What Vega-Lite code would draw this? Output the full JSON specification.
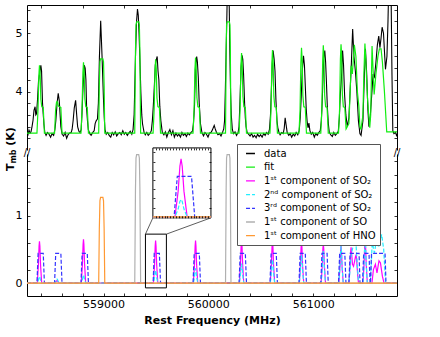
{
"$schema": "https://vega.github.io/schema/vega-lite/v6.json",
"background": "white",
"padding": {"left": 5, "top": 3, "right": 5, "bottom": 5},
"bounds": "flush",
"spacing": 4,
"config": {
  "font": "DejaVu Sans",
  "view": {"stroke": null},
  "axis": {"labelFont": "DejaVu Sans", "labelFontSize": 11, "labelColor": "black", "domainColor": "black", "tickColor": "black", "titleFont": "DejaVu Sans", "titleColor": "black", "grid": false, "domainWidth": 1, "tickWidth": 0.8, "labelOverlap": false, "labelFlush": false},
  "text": {"font": "DejaVu Sans", "color": "black"}
},
"datasets": {
"top": [
{"s":"d","x":558270,"y":3.32},{"s":"d","x":558280,"y":3.27},{"s":"d","x":558289,"y":3.34},{"s":"d","x":558299,"y":3.29},{"s":"d","x":558308,"y":3.31},{"s":"d","x":558318,"y":3.4},{"s":"d","x":558327,"y":3.5},{"s":"d","x":558337,"y":3.68},{"s":"d","x":558347,"y":3.74},{"s":"d","x":558354,"y":3.6},{"s":"d","x":558361,"y":3.62},{"s":"d","x":558370,"y":3.85},{"s":"d","x":558380,"y":4.18},{"s":"d","x":558390,"y":4.3},{"s":"d","x":558402,"y":4.45},{"s":"d","x":558409,"y":4.35},{"s":"d","x":558418,"y":3.8},{"s":"d","x":558431,"y":3.45},{"s":"d","x":558440,"y":3.3},{"s":"d","x":558452,"y":3.25},{"s":"d","x":558466,"y":3.3},{"s":"d","x":558480,"y":3.27},{"s":"d","x":558495,"y":3.22},{"s":"d","x":558509,"y":3.28},{"s":"d","x":558524,"y":3.25},{"s":"d","x":558536,"y":3.35},{"s":"d","x":558545,"y":3.5},{"s":"d","x":558557,"y":3.8},{"s":"d","x":558568,"y":3.97},{"s":"d","x":558578,"y":3.84},{"s":"d","x":558586,"y":3.6},{"s":"d","x":558593,"y":3.4},{"s":"d","x":558605,"y":3.27},{"s":"d","x":558619,"y":3.24},{"s":"d","x":558634,"y":3.3},{"s":"d","x":558648,"y":3.2},{"s":"d","x":558662,"y":3.26},{"s":"d","x":558677,"y":3.29},{"s":"d","x":558691,"y":3.3},{"s":"d","x":558700,"y":3.35},{"s":"d","x":558710,"y":3.5},{"s":"d","x":558721,"y":3.72},{"s":"d","x":558734,"y":3.85},{"s":"d","x":558744,"y":3.6},{"s":"d","x":558753,"y":3.4},{"s":"d","x":558765,"y":3.32},{"s":"d","x":558777,"y":3.3},{"s":"d","x":558787,"y":3.35},{"s":"d","x":558794,"y":3.6},{"s":"d","x":558804,"y":4.05},{"s":"d","x":558817,"y":4.45},{"s":"d","x":558825,"y":4.4},{"s":"d","x":558832,"y":4.2},{"s":"d","x":558839,"y":3.7},{"s":"d","x":558847,"y":3.5},{"s":"d","x":558855,"y":3.35},{"s":"d","x":558868,"y":3.28},{"s":"d","x":558882,"y":3.25},{"s":"d","x":558897,"y":3.3},{"s":"d","x":558911,"y":3.33},{"s":"d","x":558920,"y":3.45},{"s":"d","x":558930,"y":3.5},{"s":"d","x":558942,"y":3.53},{"s":"d","x":558951,"y":3.8},{"s":"d","x":558961,"y":4.6},{"s":"d","x":558973,"y":5.21},{"s":"d","x":558986,"y":4.6},{"s":"d","x":558999,"y":3.9},{"s":"d","x":559007,"y":3.55},{"s":"d","x":559014,"y":3.35},{"s":"d","x":559026,"y":3.27},{"s":"d","x":559040,"y":3.3},{"s":"d","x":559054,"y":3.25},{"s":"d","x":559069,"y":3.22},{"s":"d","x":559083,"y":3.3},{"s":"d","x":559097,"y":3.26},{"s":"d","x":559112,"y":3.31},{"s":"d","x":559126,"y":3.24},{"s":"d","x":559141,"y":3.28},{"s":"d","x":559155,"y":3.3},{"s":"d","x":559169,"y":3.26},{"s":"d","x":559184,"y":3.33},{"s":"d","x":559198,"y":3.27},{"s":"d","x":559212,"y":3.3},{"s":"d","x":559227,"y":3.25},{"s":"d","x":559241,"y":3.29},{"s":"d","x":559255,"y":3.32},{"s":"d","x":559270,"y":3.27},{"s":"d","x":559282,"y":3.35},{"s":"d","x":559292,"y":3.6},{"s":"d","x":559305,"y":4.6},{"s":"d","x":559315,"y":5.2},{"s":"d","x":559324,"y":5.41},{"s":"d","x":559332,"y":5.3},{"s":"d","x":559339,"y":5.0},{"s":"d","x":559348,"y":4.5},{"s":"d","x":559356,"y":4.0},{"s":"d","x":559365,"y":3.6},{"s":"d","x":559372,"y":3.45},{"s":"d","x":559387,"y":3.3},{"s":"d","x":559399,"y":3.26},{"s":"d","x":559413,"y":3.3},{"s":"d","x":559427,"y":3.25},{"s":"d","x":559442,"y":3.28},{"s":"d","x":559456,"y":3.33},{"s":"d","x":559466,"y":3.5},{"s":"d","x":559475,"y":3.75},{"s":"d","x":559485,"y":4.1},{"s":"d","x":559494,"y":4.45},{"s":"d","x":559504,"y":4.55},{"s":"d","x":559512,"y":4.6},{"s":"d","x":559520,"y":4.35},{"s":"d","x":559528,"y":4.2},{"s":"d","x":559537,"y":3.75},{"s":"d","x":559547,"y":3.5},{"s":"d","x":559554,"y":3.4},{"s":"d","x":559561,"y":3.3},{"s":"d","x":559576,"y":3.26},{"s":"d","x":559590,"y":3.31},{"s":"d","x":559604,"y":3.22},{"s":"d","x":559619,"y":3.3},{"s":"d","x":559633,"y":3.35},{"s":"d","x":559648,"y":3.26},{"s":"d","x":559662,"y":3.33},{"s":"d","x":559676,"y":3.22},{"s":"d","x":559691,"y":3.29},{"s":"d","x":559705,"y":3.24},{"s":"d","x":559719,"y":3.27},{"s":"d","x":559734,"y":3.22},{"s":"d","x":559748,"y":3.3},{"s":"d","x":559762,"y":3.25},{"s":"d","x":559777,"y":3.28},{"s":"d","x":559791,"y":3.23},{"s":"d","x":559805,"y":3.29},{"s":"d","x":559820,"y":3.26},{"s":"d","x":559834,"y":3.3},{"s":"d","x":559848,"y":3.32},{"s":"d","x":559858,"y":3.45},{"s":"d","x":559868,"y":3.75},{"s":"d","x":559877,"y":4.4},{"s":"d","x":559889,"y":4.6},{"s":"d","x":559896,"y":4.5},{"s":"d","x":559904,"y":4.25},{"s":"d","x":559913,"y":3.8},{"s":"d","x":559925,"y":3.45},{"s":"d","x":559939,"y":3.3},{"s":"d","x":559954,"y":3.24},{"s":"d","x":559968,"y":3.3},{"s":"d","x":559982,"y":3.27},{"s":"d","x":559997,"y":3.22},{"s":"d","x":560011,"y":3.29},{"s":"d","x":560025,"y":3.3},{"s":"d","x":560038,"y":3.34},{"s":"d","x":560047,"y":3.38},{"s":"d","x":560056,"y":3.42},{"s":"d","x":560066,"y":3.36},{"s":"d","x":560078,"y":3.3},{"s":"d","x":560092,"y":3.26},{"s":"d","x":560107,"y":3.28},{"s":"d","x":560121,"y":3.24},{"s":"d","x":560135,"y":3.3},{"s":"d","x":560147,"y":3.36},{"s":"d","x":560155,"y":3.5},{"s":"d","x":560162,"y":4.0},{"s":"d","x":560169,"y":4.6},{"s":"d","x":560177,"y":5.3},{"s":"d","x":560183,"y":5.9},{"s":"d","x":560193,"y":6.0},{"s":"d","x":560200,"y":5.4},{"s":"d","x":560205,"y":4.7},{"s":"d","x":560212,"y":4.0},{"s":"d","x":560219,"y":3.6},{"s":"d","x":560229,"y":3.35},{"s":"d","x":560241,"y":3.28},{"s":"d","x":560255,"y":3.31},{"s":"d","x":560269,"y":3.25},{"s":"d","x":560284,"y":3.3},{"s":"d","x":560293,"y":3.4},{"s":"d","x":560303,"y":3.9},{"s":"d","x":560312,"y":4.4},{"s":"d","x":560322,"y":4.62},{"s":"d","x":560329,"y":4.55},{"s":"d","x":560336,"y":4.3},{"s":"d","x":560346,"y":3.8},{"s":"d","x":560353,"y":3.55},{"s":"d","x":560360,"y":3.4},{"s":"d","x":560370,"y":3.3},{"s":"d","x":560384,"y":3.27},{"s":"d","x":560398,"y":3.24},{"s":"d","x":560413,"y":3.28},{"s":"d","x":560427,"y":3.22},{"s":"d","x":560441,"y":3.25},{"s":"d","x":560456,"y":3.21},{"s":"d","x":560470,"y":3.27},{"s":"d","x":560485,"y":3.23},{"s":"d","x":560499,"y":3.26},{"s":"d","x":560513,"y":3.22},{"s":"d","x":560528,"y":3.28},{"s":"d","x":560542,"y":3.25},{"s":"d","x":560556,"y":3.3},{"s":"d","x":560571,"y":3.27},{"s":"d","x":560583,"y":3.35},{"s":"d","x":560593,"y":3.6},{"s":"d","x":560601,"y":4.0},{"s":"d","x":560611,"y":4.5},{"s":"d","x":560618,"y":4.7},{"s":"d","x":560628,"y":4.55},{"s":"d","x":560636,"y":4.35},{"s":"d","x":560645,"y":3.85},{"s":"d","x":560655,"y":3.5},{"s":"d","x":560663,"y":3.38},{"s":"d","x":560674,"y":3.3},{"s":"d","x":560685,"y":3.26},{"s":"d","x":560700,"y":3.3},{"s":"d","x":560714,"y":3.28},{"s":"d","x":560724,"y":3.37},{"s":"d","x":560733,"y":3.55},{"s":"d","x":560743,"y":3.42},{"s":"d","x":560752,"y":3.3},{"s":"d","x":560767,"y":3.25},{"s":"d","x":560781,"y":3.28},{"s":"d","x":560795,"y":3.22},{"s":"d","x":560810,"y":3.27},{"s":"d","x":560824,"y":3.24},{"s":"d","x":560838,"y":3.3},{"s":"d","x":560853,"y":3.26},{"s":"d","x":560867,"y":3.33},{"s":"d","x":560877,"y":3.55},{"s":"d","x":560886,"y":3.9},{"s":"d","x":560896,"y":4.35},{"s":"d","x":560908,"y":4.61},{"s":"d","x":560917,"y":4.45},{"s":"d","x":560925,"y":4.1},{"s":"d","x":560934,"y":3.7},{"s":"d","x":560942,"y":3.5},{"s":"d","x":560951,"y":3.38},{"s":"d","x":560960,"y":3.46},{"s":"d","x":560969,"y":3.33},{"s":"d","x":560982,"y":3.27},{"s":"d","x":560996,"y":3.3},{"s":"d","x":561011,"y":3.22},{"s":"d","x":561025,"y":3.28},{"s":"d","x":561039,"y":3.25},{"s":"d","x":561054,"y":3.3},{"s":"d","x":561068,"y":3.33},{"s":"d","x":561078,"y":3.5},{"s":"d","x":561087,"y":3.85},{"s":"d","x":561100,"y":4.55},{"s":"d","x":561111,"y":4.7},{"s":"d","x":561119,"y":4.5},{"s":"d","x":561127,"y":4.15},{"s":"d","x":561135,"y":3.75},{"s":"d","x":561145,"y":3.45},{"s":"d","x":561154,"y":3.3},{"s":"d","x":561168,"y":3.26},{"s":"d","x":561183,"y":3.23},{"s":"d","x":561197,"y":3.3},{"s":"d","x":561212,"y":3.25},{"s":"d","x":561226,"y":3.28},{"s":"d","x":561240,"y":3.32},{"s":"d","x":561250,"y":3.55},{"s":"d","x":561259,"y":3.95},{"s":"d","x":561269,"y":4.2},{"s":"d","x":561281,"y":4.7},{"s":"d","x":561290,"y":4.45},{"s":"d","x":561300,"y":3.95},{"s":"d","x":561312,"y":3.6},{"s":"d","x":561326,"y":3.4},{"s":"d","x":561341,"y":3.55},{"s":"d","x":561355,"y":4.1},{"s":"d","x":561365,"y":4.5},{"s":"d","x":561377,"y":5.07},{"s":"d","x":561389,"y":4.6},{"s":"d","x":561403,"y":4.35},{"s":"d","x":561417,"y":4.0},{"s":"d","x":561432,"y":3.5},{"s":"d","x":561446,"y":3.28},{"s":"d","x":561457,"y":3.25},{"s":"d","x":561475,"y":3.5},{"s":"d","x":561489,"y":4.3},{"s":"d","x":561499,"y":4.73},{"s":"d","x":561511,"y":4.3},{"s":"d","x":561522,"y":3.7},{"s":"d","x":561532,"y":3.4},{"s":"d","x":561546,"y":3.6},{"s":"d","x":561561,"y":4.0},{"s":"d","x":561572,"y":4.3},{"s":"d","x":561585,"y":4.25},{"s":"d","x":561599,"y":4.5},{"s":"d","x":561613,"y":4.8},{"s":"d","x":561626,"y":4.95},{"s":"d","x":561637,"y":4.75},{"s":"d","x":561647,"y":4.9},{"s":"d","x":561658,"y":5.1},{"s":"d","x":561671,"y":5.0},{"s":"d","x":561680,"y":4.7},{"s":"d","x":561690,"y":4.38},{"s":"d","x":561704,"y":4.6},{"s":"d","x":561714,"y":5.2},{"s":"d","x":561721,"y":5.8},{"s":"d","x":561733,"y":6.0},{"s":"d","x":561744,"y":5.6},{"s":"d","x":561752,"y":4.3},{"s":"d","x":561760,"y":3.33},{"s":"d","x":561771,"y":3.28},{"s":"d","x":561786,"y":3.3},{"s":"d","x":561795,"y":3.25},{"s":"d","x":561800,"y":3.28},
{"s":"f","x":558270,"y":3.29},
{"s":"f","x":558365,"y":3.29},{"s":"f","x":558375,"y":3.69},{"s":"f","x":558383,"y":4.27},{"s":"f","x":558389,"y":4.45},{"s":"f","x":558395,"y":4.31},{"s":"f","x":558402,"y":3.87},{"s":"f","x":558411,"y":3.74},{"s":"f","x":558425,"y":3.73},{"s":"f","x":558436,"y":3.29},
{"s":"f","x":558533,"y":3.29},{"s":"f","x":558543,"y":3.69},{"s":"f","x":558551,"y":3.81},{"s":"f","x":558557,"y":3.83},{"s":"f","x":558563,"y":3.81},{"s":"f","x":558570,"y":3.75},{"s":"f","x":558579,"y":3.74},{"s":"f","x":558593,"y":3.73},{"s":"f","x":558604,"y":3.29},
{"s":"f","x":558785,"y":3.29},{"s":"f","x":558795,"y":3.69},{"s":"f","x":558803,"y":4.31},{"s":"f","x":558809,"y":4.5},{"s":"f","x":558815,"y":4.35},{"s":"f","x":558822,"y":3.88},{"s":"f","x":558831,"y":3.74},{"s":"f","x":558845,"y":3.73},{"s":"f","x":558856,"y":3.29},
{"s":"f","x":558954,"y":3.29},{"s":"f","x":558960,"y":4.09},{"s":"f","x":558966,"y":4.51},{"s":"f","x":558972,"y":4.56},{"s":"f","x":558994,"y":4.56},{"s":"f","x":559000,"y":4.51},{"s":"f","x":559006,"y":4.09},{"s":"f","x":559012,"y":3.29},
{"s":"f","x":559298,"y":3.29},{"s":"f","x":559305,"y":4.69},{"s":"f","x":559310,"y":5.14},{"s":"f","x":559316,"y":5.19},{"s":"f","x":559336,"y":5.19},{"s":"f","x":559342,"y":5.14},{"s":"f","x":559347,"y":4.69},{"s":"f","x":559354,"y":3.29},
{"s":"f","x":559473,"y":3.29},{"s":"f","x":559483,"y":3.69},{"s":"f","x":559491,"y":4.35},{"s":"f","x":559497,"y":4.55},{"s":"f","x":559503,"y":4.39},{"s":"f","x":559510,"y":3.89},{"s":"f","x":559519,"y":3.74},{"s":"f","x":559533,"y":3.73},{"s":"f","x":559544,"y":3.29},
{"s":"f","x":559854,"y":3.29},{"s":"f","x":559864,"y":3.69},{"s":"f","x":559872,"y":4.37},{"s":"f","x":559878,"y":4.58},{"s":"f","x":559884,"y":4.41},{"s":"f","x":559891,"y":3.9},{"s":"f","x":559900,"y":3.74},{"s":"f","x":559914,"y":3.73},{"s":"f","x":559925,"y":3.29},
{"s":"f","x":560164,"y":3.29},{"s":"f","x":560170,"y":4.69},{"s":"f","x":560174,"y":5.14},{"s":"f","x":560179,"y":5.19},{"s":"f","x":560201,"y":5.19},{"s":"f","x":560206,"y":5.14},{"s":"f","x":560210,"y":4.69},{"s":"f","x":560216,"y":3.29},
{"s":"f","x":560293,"y":3.29},{"s":"f","x":560303,"y":3.69},{"s":"f","x":560311,"y":4.43},{"s":"f","x":560317,"y":4.66},{"s":"f","x":560323,"y":4.47},{"s":"f","x":560330,"y":3.92},{"s":"f","x":560339,"y":3.74},{"s":"f","x":560353,"y":3.73},{"s":"f","x":560364,"y":3.29},
{"s":"f","x":560588,"y":3.29},{"s":"f","x":560598,"y":3.69},{"s":"f","x":560606,"y":4.47},{"s":"f","x":560612,"y":4.71},{"s":"f","x":560618,"y":4.51},{"s":"f","x":560625,"y":3.93},{"s":"f","x":560634,"y":3.74},{"s":"f","x":560648,"y":3.73},{"s":"f","x":560659,"y":3.29},
{"s":"f","x":560865,"y":3.29},{"s":"f","x":560875,"y":3.69},{"s":"f","x":560883,"y":4.5},{"s":"f","x":560889,"y":4.75},{"s":"f","x":560895,"y":4.55},{"s":"f","x":560902,"y":3.93},{"s":"f","x":560911,"y":3.74},{"s":"f","x":560925,"y":3.73},{"s":"f","x":560936,"y":3.29},
{"s":"f","x":561073,"y":3.29},{"s":"f","x":561083,"y":3.69},{"s":"f","x":561091,"y":4.53},{"s":"f","x":561097,"y":4.79},{"s":"f","x":561103,"y":4.58},{"s":"f","x":561110,"y":3.94},{"s":"f","x":561119,"y":3.74},{"s":"f","x":561133,"y":3.73},{"s":"f","x":561144,"y":3.29},
{"s":"f","x":561242,"y":3.29},{"s":"f","x":561252,"y":3.69},{"s":"f","x":561260,"y":4.56},{"s":"f","x":561266,"y":4.81},{"s":"f","x":561272,"y":4.61},{"s":"f","x":561279,"y":3.95},{"s":"f","x":561288,"y":3.74},{"s":"f","x":561302,"y":3.73},{"s":"f","x":561314,"y":3.36},
{"s":"f","x":561341,"y":3.45},{"s":"f","x":561351,"y":3.9},{"s":"f","x":561362,"y":4.44},{"s":"f","x":561374,"y":4.3},{"s":"f","x":561393,"y":4.8},{"s":"f","x":561408,"y":4.6},{"s":"f","x":561422,"y":4.0},{"s":"f","x":561436,"y":3.75},{"s":"f","x":561446,"y":3.4},{"s":"f","x":561456,"y":3.35},{"s":"f","x":561475,"y":3.6},{"s":"f","x":561484,"y":4.3},{"s":"f","x":561494,"y":4.82},{"s":"f","x":561503,"y":4.5},{"s":"f","x":561518,"y":3.9},{"s":"f","x":561530,"y":3.6},{"s":"f","x":561540,"y":3.38},{"s":"f","x":561549,"y":3.6},{"s":"f","x":561562,"y":4.78},{"s":"f","x":561582,"y":3.95},{"s":"f","x":561599,"y":4.3},{"s":"f","x":561618,"y":4.6},{"s":"f","x":561632,"y":4.73},{"s":"f","x":561648,"y":4.73},{"s":"f","x":561661,"y":4.5},{"s":"f","x":561680,"y":4.0},{"s":"f","x":561702,"y":3.31},{"s":"f","x":561800,"y":3.31}
],
"comp": [
{"s":"s1","x":558270,"y":0},
{"s":"s1","x":558368,"y":0},{"s":"s1","x":558379,"y":0.28},{"s":"s1","x":558385,"y":0.55},{"s":"s1","x":558389,"y":0.62},{"s":"s1","x":558393,"y":0.55},{"s":"s1","x":558399,"y":0.28},{"s":"s1","x":558410,"y":0},
{"s":"s1","x":558536,"y":0},{"s":"s1","x":558557,"y":0.04},{"s":"s1","x":558578,"y":0},
{"s":"s1","x":558788,"y":0},{"s":"s1","x":558799,"y":0.29},{"s":"s1","x":558805,"y":0.57},{"s":"s1","x":558809,"y":0.65},{"s":"s1","x":558813,"y":0.57},{"s":"s1","x":558819,"y":0.29},{"s":"s1","x":558830,"y":0},
{"s":"s1","x":559400,"y":0},
{"s":"s1","x":559476,"y":0},{"s":"s1","x":559487,"y":0.28},{"s":"s1","x":559493,"y":0.55},{"s":"s1","x":559497,"y":0.63},{"s":"s1","x":559501,"y":0.55},{"s":"s1","x":559507,"y":0.28},{"s":"s1","x":559518,"y":0},
{"s":"s1","x":559600,"y":0},
{"s":"s1","x":559857,"y":0},{"s":"s1","x":559868,"y":0.28},{"s":"s1","x":559874,"y":0.55},{"s":"s1","x":559878,"y":0.63},{"s":"s1","x":559882,"y":0.55},{"s":"s1","x":559888,"y":0.28},{"s":"s1","x":559899,"y":0},
{"s":"s1","x":560296,"y":0},{"s":"s1","x":560307,"y":0.29},{"s":"s1","x":560313,"y":0.56},{"s":"s1","x":560317,"y":0.64},{"s":"s1","x":560321,"y":0.56},{"s":"s1","x":560327,"y":0.29},{"s":"s1","x":560338,"y":0},
{"s":"s1","x":560591,"y":0},{"s":"s1","x":560602,"y":0.28},{"s":"s1","x":560608,"y":0.55},{"s":"s1","x":560612,"y":0.63},{"s":"s1","x":560616,"y":0.55},{"s":"s1","x":560622,"y":0.28},{"s":"s1","x":560633,"y":0},
{"s":"s1","x":560868,"y":0},{"s":"s1","x":560879,"y":0.27},{"s":"s1","x":560885,"y":0.53},{"s":"s1","x":560889,"y":0.6},{"s":"s1","x":560893,"y":0.53},{"s":"s1","x":560899,"y":0.27},{"s":"s1","x":560910,"y":0},
{"s":"s1","x":561076,"y":0},{"s":"s1","x":561087,"y":0.26},{"s":"s1","x":561093,"y":0.51},{"s":"s1","x":561097,"y":0.58},{"s":"s1","x":561101,"y":0.51},{"s":"s1","x":561107,"y":0.26},{"s":"s1","x":561118,"y":0},
{"s":"s1","x":561245,"y":0},{"s":"s1","x":561256,"y":0.25},{"s":"s1","x":561262,"y":0.48},{"s":"s1","x":561266,"y":0.55},{"s":"s1","x":561270,"y":0.48},{"s":"s1","x":561276,"y":0.25},{"s":"s1","x":561287,"y":0},
{"s":"s1","x":561341,"y":0},{"s":"s1","x":561352,"y":0.25},{"s":"s1","x":561358,"y":0.47},{"s":"s1","x":561362,"y":0.53},{"s":"s1","x":561367,"y":0.45},{"s":"s1","x":561375,"y":0.28},{"s":"s1","x":561385,"y":0.25},{"s":"s1","x":561395,"y":0.32},{"s":"s1","x":561405,"y":0.4},{"s":"s1","x":561411,"y":0.42},{"s":"s1","x":561417,"y":0.3},{"s":"s1","x":561425,"y":0.12},{"s":"s1","x":561433,"y":0},
{"s":"s1","x":561475,"y":0},{"s":"s1","x":561486,"y":0.29},{"s":"s1","x":561492,"y":0.56},{"s":"s1","x":561496,"y":0.64},{"s":"s1","x":561500,"y":0.56},{"s":"s1","x":561506,"y":0.29},{"s":"s1","x":561517,"y":0},
{"s":"s1","x":561561,"y":0},{"s":"s1","x":561575,"y":0.2},{"s":"s1","x":561594,"y":0.28},{"s":"s1","x":561609,"y":0.15},{"s":"s1","x":561628,"y":0.33},{"s":"s1","x":561642,"y":0.3},{"s":"s1","x":561661,"y":0.1},{"s":"s1","x":561676,"y":0},
{"s":"s1","x":561800,"y":0},
{"s":"s2","x":558270,"y":0},
{"s":"s2","x":558368,"y":0},{"s":"s2","x":558379,"y":0.045},{"s":"s2","x":558385,"y":0.088},{"s":"s2","x":558389,"y":0.1},{"s":"s2","x":558393,"y":0.088},{"s":"s2","x":558399,"y":0.045},{"s":"s2","x":558410,"y":0},
{"s":"s2","x":558536,"y":0},{"s":"s2","x":558547,"y":0.027},{"s":"s2","x":558553,"y":0.053},{"s":"s2","x":558557,"y":0.06},{"s":"s2","x":558561,"y":0.053},{"s":"s2","x":558567,"y":0.027},{"s":"s2","x":558578,"y":0},
{"s":"s2","x":558788,"y":0},{"s":"s2","x":558799,"y":0.054},{"s":"s2","x":558805,"y":0.106},{"s":"s2","x":558809,"y":0.12},{"s":"s2","x":558813,"y":0.106},{"s":"s2","x":558819,"y":0.054},{"s":"s2","x":558830,"y":0},
{"s":"s2","x":559400,"y":0},
{"s":"s2","x":559476,"y":0},{"s":"s2","x":559487,"y":0.085},{"s":"s2","x":559493,"y":0.167},{"s":"s2","x":559497,"y":0.19},{"s":"s2","x":559501,"y":0.167},{"s":"s2","x":559507,"y":0.085},{"s":"s2","x":559518,"y":0},
{"s":"s2","x":559600,"y":0},
{"s":"s2","x":559857,"y":0},{"s":"s2","x":559868,"y":0.1},{"s":"s2","x":559874,"y":0.19},{"s":"s2","x":559878,"y":0.22},{"s":"s2","x":559882,"y":0.19},{"s":"s2","x":559888,"y":0.1},{"s":"s2","x":559899,"y":0},
{"s":"s2","x":560296,"y":0},{"s":"s2","x":560307,"y":0.13},{"s":"s2","x":560313,"y":0.255},{"s":"s2","x":560317,"y":0.29},{"s":"s2","x":560321,"y":0.255},{"s":"s2","x":560327,"y":0.13},{"s":"s2","x":560338,"y":0},
{"s":"s2","x":560591,"y":0},{"s":"s2","x":560602,"y":0.16},{"s":"s2","x":560608,"y":0.31},{"s":"s2","x":560612,"y":0.35},{"s":"s2","x":560616,"y":0.31},{"s":"s2","x":560622,"y":0.16},{"s":"s2","x":560633,"y":0},
{"s":"s2","x":560868,"y":0},{"s":"s2","x":560879,"y":0.19},{"s":"s2","x":560885,"y":0.37},{"s":"s2","x":560889,"y":0.42},{"s":"s2","x":560893,"y":0.37},{"s":"s2","x":560899,"y":0.19},{"s":"s2","x":560910,"y":0},
{"s":"s2","x":561076,"y":0},{"s":"s2","x":561087,"y":0.22},{"s":"s2","x":561093,"y":0.42},{"s":"s2","x":561097,"y":0.48},{"s":"s2","x":561101,"y":0.42},{"s":"s2","x":561107,"y":0.22},{"s":"s2","x":561118,"y":0},
{"s":"s2","x":561245,"y":0},{"s":"s2","x":561256,"y":0.25},{"s":"s2","x":561262,"y":0.48},{"s":"s2","x":561266,"y":0.55},{"s":"s2","x":561270,"y":0.48},{"s":"s2","x":561276,"y":0.25},{"s":"s2","x":561287,"y":0},
{"s":"s2","x":561341,"y":0},{"s":"s2","x":561352,"y":0.2},{"s":"s2","x":561365,"y":0.45},{"s":"s2","x":561375,"y":0.5},{"s":"s2","x":561389,"y":0.63},{"s":"s2","x":561400,"y":0.55},{"s":"s2","x":561408,"y":0.6},{"s":"s2","x":561420,"y":0.3},{"s":"s2","x":561433,"y":0},
{"s":"s2","x":561475,"y":0},{"s":"s2","x":561486,"y":0.29},{"s":"s2","x":561492,"y":0.57},{"s":"s2","x":561496,"y":0.65},{"s":"s2","x":561500,"y":0.57},{"s":"s2","x":561506,"y":0.29},{"s":"s2","x":561517,"y":0},
{"s":"s2","x":561547,"y":0},{"s":"s2","x":561558,"y":0.4},{"s":"s2","x":561565,"y":0.68},{"s":"s2","x":561575,"y":0.5},{"s":"s2","x":561585,"y":0.45},{"s":"s2","x":561600,"y":0.6},{"s":"s2","x":561612,"y":0.68},{"s":"s2","x":561622,"y":0.55},{"s":"s2","x":561633,"y":0.55},{"s":"s2","x":561645,"y":0.66},{"s":"s2","x":561654,"y":0.72},{"s":"s2","x":561664,"y":0.6},{"s":"s2","x":561673,"y":0.5},{"s":"s2","x":561682,"y":0.25},{"s":"s2","x":561690,"y":0},
{"s":"s2","x":561800,"y":0},
{"s":"s3","x":558270,"y":0},
{"s":"s3","x":558365,"y":0},{"s":"s3","x":558376,"y":0.44},{"s":"s3","x":558425,"y":0.44},{"s":"s3","x":558436,"y":0},
{"s":"s3","x":558533,"y":0},{"s":"s3","x":558544,"y":0.44},{"s":"s3","x":558593,"y":0.44},{"s":"s3","x":558604,"y":0},
{"s":"s3","x":558785,"y":0},{"s":"s3","x":558796,"y":0.44},{"s":"s3","x":558845,"y":0.44},{"s":"s3","x":558856,"y":0},
{"s":"s3","x":559400,"y":0},
{"s":"s3","x":559473,"y":0},{"s":"s3","x":559484,"y":0.44},{"s":"s3","x":559533,"y":0.44},{"s":"s3","x":559544,"y":0},
{"s":"s3","x":559600,"y":0},
{"s":"s3","x":559854,"y":0},{"s":"s3","x":559865,"y":0.44},{"s":"s3","x":559914,"y":0.44},{"s":"s3","x":559925,"y":0},
{"s":"s3","x":560293,"y":0},{"s":"s3","x":560304,"y":0.44},{"s":"s3","x":560353,"y":0.44},{"s":"s3","x":560364,"y":0},
{"s":"s3","x":560588,"y":0},{"s":"s3","x":560599,"y":0.44},{"s":"s3","x":560648,"y":0.44},{"s":"s3","x":560659,"y":0},
{"s":"s3","x":560865,"y":0},{"s":"s3","x":560876,"y":0.44},{"s":"s3","x":560925,"y":0.44},{"s":"s3","x":560936,"y":0},
{"s":"s3","x":561073,"y":0},{"s":"s3","x":561084,"y":0.44},{"s":"s3","x":561133,"y":0.44},{"s":"s3","x":561144,"y":0},
{"s":"s3","x":561242,"y":0},{"s":"s3","x":561253,"y":0.44},{"s":"s3","x":561302,"y":0.44},{"s":"s3","x":561313,"y":0},
{"s":"s3","x":561341,"y":0},{"s":"s3","x":561352,"y":0.44},{"s":"s3","x":561438,"y":0.44},{"s":"s3","x":561447,"y":0},
{"s":"s3","x":561471,"y":0},{"s":"s3","x":561482,"y":0.44},{"s":"s3","x":561533,"y":0.44},{"s":"s3","x":561543,"y":0},
{"s":"s3","x":561547,"y":0},{"s":"s3","x":561557,"y":0.44},{"s":"s3","x":561686,"y":0.44},{"s":"s3","x":561695,"y":0},
{"s":"s3","x":561800,"y":0},
{"s":"o","x":558270,"y":0},{"s":"o","x":559298,"y":0},{"s":"o","x":559305,"y":1.4},{"s":"o","x":559310,"y":1.85},{"s":"o","x":559316,"y":1.9},{"s":"o","x":559336,"y":1.9},{"s":"o","x":559342,"y":1.85},{"s":"o","x":559347,"y":1.4},{"s":"o","x":559354,"y":0},{"s":"o","x":559400,"y":0},{"s":"o","x":559600,"y":0},{"s":"o","x":560164,"y":0},{"s":"o","x":560170,"y":1.4},{"s":"o","x":560174,"y":1.85},{"s":"o","x":560179,"y":1.9},{"s":"o","x":560201,"y":1.9},{"s":"o","x":560206,"y":1.85},{"s":"o","x":560210,"y":1.4},{"s":"o","x":560216,"y":0},{"s":"o","x":561800,"y":0},
{"s":"h","x":558270,"y":0},{"s":"h","x":558954,"y":0},{"s":"h","x":558960,"y":0.8},{"s":"h","x":558966,"y":1.22},{"s":"h","x":558972,"y":1.27},{"s":"h","x":558994,"y":1.27},{"s":"h","x":559000,"y":1.22},{"s":"h","x":559006,"y":0.8},{"s":"h","x":559012,"y":0},{"s":"h","x":559400,"y":0},{"s":"h","x":559600,"y":0},{"s":"h","x":561800,"y":0}
]
},
"vconcat": [
{
  "width": 370, "height": 145,
  "layer": [
    {
      "data": {"name": "top"},
      "transform": [{"filter": "datum.s === 'd'"}],
      "mark": {"type": "line", "clip": true, "strokeWidth": 1.1},
      "encoding": {
        "x": {"field": "x", "type": "quantitative", "scale": {"domain": [558270, 561800], "nice": false, "zero": false},
              "axis": {"orient": "top", "values": [558400,558600,558800,559000,559200,559400,559600,559800,560000,560200,560400,560600,560800,561000,561200,561400,561600], "labels": false, "tickSize": -3, "title": null}},
        "y": {"field": "y", "type": "quantitative", "scale": {"domain": [3.0, 5.48], "nice": false, "zero": false},
              "axis": {"orient": "left", "values": [3.2,3.4,3.6,3.8,4,4.2,4.4,4.6,4.8,5,5.2,5.4], "labelExpr": "datum.value == 4 ? '4' : datum.value == 5 ? '5' : ''", "labelOverlap": false, "tickSize": -3, "labelPadding": 8, "title": null}},
        "color": {"field": "s", "type": "nominal",
                  "scale": {"domain": ["d","f","s1","s2","s3","o","h"], "range": ["black","#11ee11","#ff00ff","#22eeff","#3333ff","#b0b0b0","#ff9933"]},
                  "legend": {"orient": "none", "legendX": 210, "legendY": 139, "title": null, "zindex": 1,
                             "labelExpr": "datum.label == 'd' ? 'data' : datum.label == 'f' ? 'fit' : datum.label == 's1' ? '1ˢᵗ component of SO₂' : datum.label == 's2' ? '2ⁿᵈ component of SO₂' : datum.label == 's3' ? '3ʳᵈ component of SO₂' : datum.label == 'o' ? '1ˢᵗ component of SO' : '1ˢᵗ component of HNO'",
                             "symbolType": "stroke", "symbolSize": 80, "symbolStrokeWidth": 1.3, "labelFontSize": 10, "labelFont": "DejaVu Sans", "labelColor": "black",
                             "fillColor": "white", "strokeColor": "#555555", "padding": 4, "rowPadding": 2.7, "labelOffset": 8, "symbolOffset": 4, "cornerRadius": 0}},
        "strokeDash": {"field": "s", "type": "nominal",
                  "scale": {"domain": ["d","f","s1","s2","s3","o","h"], "range": [[1,0],[1,0],[1,0],[4,2],[4,2],[1,0],[1,0]]},
                  "legend": {"orient": "none", "legendX": 210, "legendY": 139, "title": null, "zindex": 1,
                             "labelExpr": "datum.label == 'd' ? 'data' : datum.label == 'f' ? 'fit' : datum.label == 's1' ? '1ˢᵗ component of SO₂' : datum.label == 's2' ? '2ⁿᵈ component of SO₂' : datum.label == 's3' ? '3ʳᵈ component of SO₂' : datum.label == 'o' ? '1ˢᵗ component of SO' : '1ˢᵗ component of HNO'",
                             "symbolType": "stroke", "symbolSize": 80, "symbolStrokeWidth": 1.3, "labelFontSize": 10, "labelFont": "DejaVu Sans", "labelColor": "black",
                             "fillColor": "white", "strokeColor": "#555555", "padding": 4, "rowPadding": 2.7, "labelOffset": 8, "symbolOffset": 4, "cornerRadius": 0}}
      }
    },
    {
      "data": {"name": "top"},
      "transform": [{"filter": "datum.s === 'f'"}],
      "mark": {"type": "line", "clip": true, "strokeWidth": 1.2},
      "encoding": {
        "x": {"field": "x", "type": "quantitative"},
        "y": {"field": "y", "type": "quantitative", "axis": {"orient": "right", "values": [3.2,3.4,3.6,3.8,4,4.2,4.4,4.6,4.8,5,5.2,5.4], "labels": false, "tickSize": -3, "title": null}},
        "color": {"field": "s", "type": "nominal"},
        "strokeDash": {"field": "s", "type": "nominal"}
      }
    },
    {
      "data": {"values": [{"bx": 558270}, {"bx": 561800}]},
      "mark": {"type": "text", "text": "//", "fontSize": 10, "dy": 2.5, "align": "center", "baseline": "middle"},
      "encoding": {
        "x": {"field": "bx", "type": "quantitative"},
        "y": {"datum": 3.0, "type": "quantitative", "axis": null}
      }
    },
    {
      "data": {"values": [{}]},
      "mark": {"type": "text", "text": "T", "angle": 270, "align": "left", "baseline": "alphabetic", "fontSize": 11, "fontWeight": "bold", "dx": -21, "dy": -13},
      "encoding": {"x": {"datum": 558270, "type": "quantitative"}, "y": {"datum": 3.0, "type": "quantitative", "axis": null}}
    },
    {
      "data": {"values": [{}]},
      "mark": {"type": "text", "text": "mb", "angle": 270, "align": "left", "baseline": "alphabetic", "fontSize": 8, "fontWeight": "bold", "dx": -13.5, "dy": -11},
      "encoding": {"x": {"datum": 558270, "type": "quantitative"}, "y": {"datum": 3.0, "type": "quantitative", "axis": null}}
    },
    {
      "data": {"values": [{}]},
      "mark": {"type": "text", "text": "(K)", "angle": 270, "align": "left", "baseline": "alphabetic", "fontSize": 11, "fontWeight": "bold", "dx": 4.3, "dy": -13},
      "encoding": {"x": {"datum": 558270, "type": "quantitative"}, "y": {"datum": 3.0, "type": "quantitative", "axis": null}}
    }
  ],
  "resolve": {"axis": {"y": "independent"}}
},
{
  "width": 370, "height": 142,
  "layer": [
    {
      "layer": [
        {
          "data": {"name": "comp"},
          "mark": {"type": "line", "clip": true, "strokeWidth": 1.2},
          "encoding": {
            "x": {"field": "x", "type": "quantitative", "scale": {"domain": [558270, 561800], "nice": false, "zero": false},
                  "axis": {"orient": "bottom", "values": [559000, 560000, 561000], "format": "d", "tickSize": -3, "labelPadding": 5, "title": "Rest Frequency (MHz)", "titleFontWeight": "bold", "titleFontSize": 11, "titlePadding": 5}},
            "y": {"field": "y", "type": "quantitative", "scale": {"domain": [-0.19, 1.91], "nice": false, "zero": false},
                  "axis": {"orient": "left", "values": [0,0.2,0.4,0.6,0.8,1,1.2,1.4,1.6,1.8], "labelExpr": "datum.value == 0 ? '0' : datum.value == 1 ? '1' : ''", "labelOverlap": false, "tickSize": -3, "labelPadding": 8, "title": null}},
            "color": {"field": "s", "type": "nominal"},
            "strokeDash": {"field": "s", "type": "nominal"}
          }
        },
        {
          "data": {"values": [{"x": 559400, "x2": 559600, "y": -0.07, "y2": 0.725}]},
          "mark": {"type": "rect", "filled": false, "color": "black", "strokeWidth": 1},
          "encoding": {
            "x": {"field": "x", "type": "quantitative", "axis": {"orient": "bottom", "values": [558400,558600,558800,559200,559400,559600,559800,560200,560400,560600,560800,561200,561400,561600], "labels": false, "domain": false, "tickSize": -3, "title": null}},
            "x2": {"field": "x2"},
            "y": {"field": "y", "type": "quantitative", "axis": {"orient": "right", "values": [0,0.2,0.4,0.6,0.8,1,1.2,1.4,1.6,1.8], "labels": false, "tickSize": -3, "title": null}},
            "y2": {"field": "y2"}
          }
        },
        {
          "data": {"values": [{"x": 559471, "y": 0.966, "x2": 559400, "y2": 0.725}, {"x": 560025, "y": 0.966, "x2": 559600, "y2": 0.725}]},
          "mark": {"type": "rule", "color": "#333333", "strokeWidth": 0.8},
          "encoding": {
            "x": {"field": "x", "type": "quantitative", "axis": null}, "x2": {"field": "x2"},
            "y": {"field": "y", "type": "quantitative", "axis": null}, "y2": {"field": "y2"}
          }
        },
        {
          "data": {"values": [{"x": 559471, "x2": 560025, "y": 0.966, "y2": 2.0}]},
          "mark": {"type": "rect", "fill": "white", "stroke": "black", "strokeWidth": 1},
          "encoding": {
            "x": {"field": "x", "type": "quantitative", "axis": null}, "x2": {"field": "x2"},
            "y": {"field": "y", "type": "quantitative", "axis": null}, "y2": {"field": "y2"}
          }
        }
      ],
      "resolve": {"axis": {"x": "independent", "y": "independent"}}
    },
    {
      "layer": [
        {
          "data": {"name": "comp"},
          "transform": [{"filter": {"field": "x", "range": [559400, 559600]}}],
          "mark": {"type": "line", "strokeWidth": 1.2},
          "encoding": {
            "x": {"field": "x", "type": "quantitative", "scale": {"domain": [559400, 559600], "range": [125.9, 183.95], "nice": false, "zero": false},
                  "axis": {"orient": "top", "offset": 6.1, "values": [559410,559420,559430,559440,559450,559460,559470,559480,559490,559500,559510,559520,559530,559540,559550,559560,559570,559580,559590], "labels": false, "domain": false, "tickSize": -2, "zindex": 1, "title": null}},
            "y": {"field": "y", "type": "quantitative", "scale": {"domain": [-0.01, 0.75], "range": [63.8, -6.1], "nice": false, "zero": false},
                  "axis": {"orient": "left", "offset": -125.9, "values": [0.1,0.2,0.3,0.4,0.5,0.6,0.7], "labels": false, "domain": false, "tickSize": -2, "zindex": 1, "title": null}},
            "color": {"field": "s", "type": "nominal"},
            "strokeDash": {"field": "s", "type": "nominal"}
          }
        },
        {
          "data": {"values": [{"x": 559400, "y": 0}]},
          "mark": {"type": "point", "opacity": 0},
          "encoding": {
            "x": {"field": "x", "type": "quantitative", "axis": {"orient": "bottom", "offset": -78.2, "values": [559410,559420,559430,559440,559450,559460,559470,559480,559490,559500,559510,559520,559530,559540,559550,559560,559570,559580,559590], "labels": false, "domain": false, "tickSize": -2, "zindex": 1, "title": null}},
            "y": {"field": "y", "type": "quantitative", "axis": {"orient": "right", "offset": -186.05, "values": [0.1,0.2,0.3,0.4,0.5,0.6,0.7], "labels": false, "domain": false, "tickSize": -2, "zindex": 1, "title": null}}
          }
        }
      ],
      "resolve": {"axis": {"x": "independent", "y": "independent"}}
    }
  ],
  "resolve": {"scale": {"x": "independent", "y": "independent"}}
}
]
}
